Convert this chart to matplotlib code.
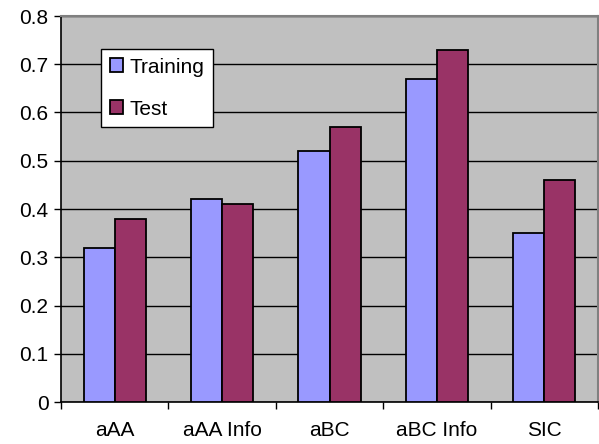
import matplotlib.pyplot as plt
import numpy as np

categories = ['aAA', 'aAA Info', 'aBC', 'aBC Info', 'SIC']
training = [0.32, 0.42, 0.52, 0.67, 0.35]
test = [0.38, 0.41, 0.57, 0.73, 0.46]

plt.rcParams['font.family'] = ['Liberation Sans', 'DejaVu Sans']


def make_plot():
    fig = plt.figure(figsize=(5.99, 4.44), dpi=100)
    ax = fig.add_axes([61 / 599, 42 / 444, 537 / 599, 386 / 444])
    ax.set_facecolor('#C0C0C0')

    x = np.arange(len(categories))
    w = 0.29
    ax.bar(x - w / 2, training, w, color='#9999FF', edgecolor='black',
           linewidth=1.3, label='Training', zorder=3)
    ax.bar(x + w / 2, test, w, color='#993366', edgecolor='black',
           linewidth=1.3, label='Test', zorder=3)

    ax.set_xlim(-0.5, len(categories) - 0.5)
    ax.set_ylim(0, 0.8)
    ax.set_yticks(np.arange(0, 0.81, 0.1))
    ax.set_yticklabels(['0'] + ['%.1f' % v for v in np.arange(0.1, 0.81, 0.1)])
    ax.yaxis.grid(True, color='black', linewidth=1.0, zorder=1)
    ax.set_axisbelow(True)

    # category labels centred, tick marks on the boundaries
    ax.set_xticks(np.arange(-0.5, len(categories)), minor=False)
    ax.set_xticklabels([])
    ax.set_xticks(x, minor=True)
    ax.set_xticklabels(categories, minor=True)
    ax.tick_params(axis='x', which='major', length=5, width=1, direction='out')
    ax.tick_params(axis='x', which='minor', length=0, pad=14, labelsize=15)
    ax.tick_params(axis='y', length=5, width=1, direction='out', pad=4,
                   labelsize=15)

    for s in ['left', 'bottom']:
        ax.spines[s].set_color('black')
        ax.spines[s].set_linewidth(1.2)
    for s in ['top', 'right']:
        ax.spines[s].set_color('#808080')
        ax.spines[s].set_linewidth(1.5)

    leg = ax.legend(loc='upper left', bbox_to_anchor=(40 / 537, 353 / 386),
                    fontsize=15, frameon=True, fancybox=False,
                    handlelength=0.65, handleheight=0.65, handletextpad=0.3,
                    labelspacing=1.1, borderpad=0.42, borderaxespad=0)
    leg.get_frame().set_edgecolor('black')
    leg.get_frame().set_linewidth(1.0)
    leg.get_frame().set_facecolor('white')
    leg.get_frame().set_alpha(1)

    plt.savefig('out.png', dpi=100)


def main():
    make_plot()


if __name__ == "__main__":
    main()
